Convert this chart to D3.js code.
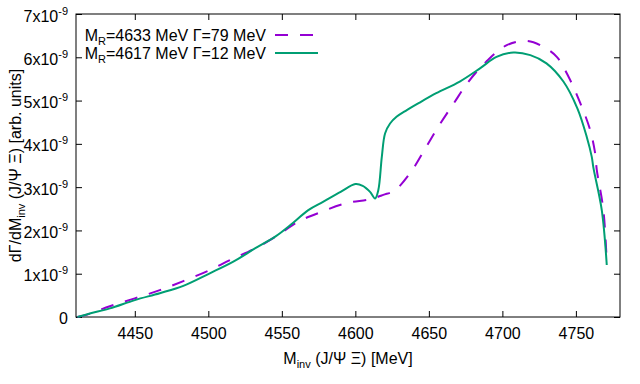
<!DOCTYPE html>
<html>
  <head>
    <meta charset="utf-8">
    <title>dGamma/dMinv</title>
    <style>
      body{ margin:0; background:#fff; }
      svg{ display:block; font-family:"Liberation Sans", Arial, sans-serif; }
      .tick text{ font-size:16px; fill:#000; }
    </style>
  </head>
  <body>
    <svg id="chart" width="640" height="384"></svg>
  </body>
  <script src="https://d3js.org/d3.v7.min.js"></script>
  <script>
    // values in units of 1e-9
    var broadMass = [4411, 4417, 4433, 4450, 4467, 4483, 4500, 4515, 4531, 4546, 4561, 4577, 4594, 4610, 4619, 4627, 4638, 4647, 4656.5, 4667, 4677, 4689, 4703, 4716.6, 4728, 4737, 4745, 4753, 4759.7, 4763.1, 4764.2, 4768.7, 4771]
    var broadVals = [0, 0.05, 0.25, 0.43, 0.62, 0.83, 1.07, 1.32, 1.57, 1.86, 2.20, 2.43, 2.63, 2.72, 2.82, 2.93, 3.36, 3.86, 4.40, 4.94, 5.44, 5.90, 6.28, 6.38, 6.24, 6.01, 5.55, 4.94, 4.32, 3.78, 3.40, 2.47, 1.25]

    var narrowMass = [4411, 4420, 4433, 4450, 4467, 4483, 4501, 4517, 4532, 4546, 4556, 4568, 4578, 4590, 4600, 4605, 4610, 4613.4, 4615.6, 4618, 4620.2, 4623.6, 4628.2, 4635, 4643, 4655, 4671, 4685, 4696, 4707.5, 4719, 4730, 4741.5, 4751, 4757.4, 4760.8, 4761.9, 4767.6, 4771]
    var narrowVals = [0, 0.085, 0.20, 0.39, 0.55, 0.72, 1.01, 1.28, 1.59, 1.87, 2.13, 2.47, 2.66, 2.89, 3.07, 3.03, 2.89, 2.74, 2.93, 3.70, 4.24, 4.47, 4.63, 4.78, 4.94, 5.17, 5.44, 5.75, 6.01, 6.11, 6.05, 5.86, 5.44, 4.82, 4.16, 3.70, 3.45, 2.47, 1.20]

    var xTicks = [4450, 4500, 4550, 4600, 4650, 4700, 4750]
    var yTicks = [0, 1, 2, 3, 4, 5, 6, 7]

    var series = [
      {mR:"4633", gamma:"79", mass:broadMass, vals:broadVals, color:"#9400d3", dash:"13,12"},
      {mR:"4617", gamma:"12", mass:narrowMass, vals:narrowVals, color:"#009e73", dash:null}
    ]

    var pL = 76, pR = 620, pT = 14, pB = 317
    var svg = d3.select("#chart")

    var x = d3.scaleLinear().domain([4410, 4780]).range([pL, pR])
    var y = d3.scaleLinear().domain([0, 7]).range([pB, pT])

    // bottom axis with labels, ticks pointing in
    var gx = svg.append("g").attr("transform", "translate(0," + pB + ")")
      .call(d3.axisBottom(x).tickValues(xTicks).tickSize(-6).tickPadding(11).tickFormat(d3.format("d")))
    gx.select(".domain").remove()
    gx.selectAll(".tick text").attr("y", 11).attr("dy", "0.71em")

    var gxt = svg.append("g").attr("transform", "translate(0," + pT + ")")
      .call(d3.axisTop(x).tickValues(xTicks).tickSize(-6).tickFormat(""))
    gxt.select(".domain").remove()

    var gy = svg.append("g").attr("transform", "translate(" + pL + ",0)")
      .call(d3.axisLeft(y).tickValues(yTicks).tickSize(-6).tickFormat(""))
    gy.select(".domain").remove()
    gy.selectAll(".tick").each(function(d){
      var t = d3.select(this).append("text").attr("x", -8).attr("y", 7).attr("text-anchor", "end")
        .attr("fill", "#000").style("font-size", "16px")
      if(d === 0){
        t.attr("y", 6).text("0")
      } else {
        t.append("tspan").text(d + "x10")
        t.append("tspan").attr("dy", -7).style("font-size", "11px").text("-9")
      }
    })

    var gyr = svg.append("g").attr("transform", "translate(" + pR + ",0)")
      .call(d3.axisRight(y).tickValues(yTicks).tickSize(-6).tickFormat(""))
    gyr.select(".domain").remove()

    svg.selectAll(".tick line").attr("stroke", "#000")

    svg.append("rect").attr("x", pL).attr("y", pT).attr("width", pR - pL).attr("height", pB - pT)
      .attr("fill", "none").attr("stroke", "#000").attr("stroke-width", 1)

    var line = d3.line().curve(d3.curveCatmullRom.alpha(0.5))
      .x(function(d){ return x(d[0]) }).y(function(d){ return y(d[1]) })

    series.forEach(function(s){
      svg.append("path").datum(d3.zip(s.mass, s.vals))
        .attr("d", line).attr("fill", "none").attr("stroke", s.color).attr("stroke-width", 2)
        .attr("stroke-dasharray", s.dash)
    })

    // legend
    series.forEach(function(s, i){
      var ly = 35 + i * 18
      var t = svg.append("text").attr("x", 266).attr("y", ly + 6).attr("text-anchor", "end")
        .style("font-size", "16px").attr("fill", "#000")
      t.append("tspan").text("M")
      t.append("tspan").attr("dy", 4).style("font-size", "11px").text("R")
      t.append("tspan").attr("dy", -4).text("=" + s.mR + " MeV \u0393=" + s.gamma + " MeV")
      svg.append("line").attr("x1", 275).attr("x2", 318).attr("y1", ly).attr("y2", ly)
        .attr("stroke", s.color).attr("stroke-width", 2).attr("stroke-dasharray", s.dash)
    })

    // axis titles
    var xl = svg.append("text").attr("x", (pL + pR) / 2).attr("y", 364).attr("text-anchor", "middle")
      .style("font-size", "16px")
    xl.append("tspan").text("M")
    xl.append("tspan").attr("dy", 4).style("font-size", "11px").text("inv")
    xl.append("tspan").attr("dy", -4).text(" (J/\u03a8 \u039e) [MeV]")

    var yl = svg.append("text").attr("transform", "translate(21," + ((pT + pB) / 2) + ") rotate(-90)")
      .attr("text-anchor", "middle").style("font-size", "16px")
    yl.append("tspan").text("d\u0393/dM")
    yl.append("tspan").attr("dy", 4).style("font-size", "11px").text("inv")
    yl.append("tspan").attr("dy", -4).text(" (J/\u03a8 \u039e) [arb. units]")
  </script>
</html>
